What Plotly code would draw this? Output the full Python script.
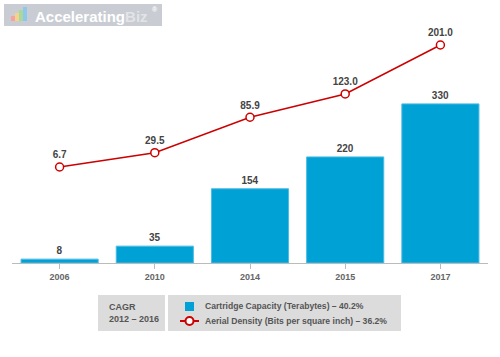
import plotly.graph_objects as go

years = ["2006", "2010", "2014", "2015", "2017"]
capacity = [8, 35, 154, 220, 330]
density = [6.7, 29.5, 85.9, 123.0, 201.0]
density_labels = ["6.7", "29.5", "85.9", "123.0", "201.0"]

W, H = 500, 357
L, R, T, B = 12, 12, 20, 94
PW, PH = W - L - R, H - T - B

def px(x):
    return (x - L) / PW

def py(y):
    return (H - B - y) / PH

FONT = "Liberation Sans, Arial"

fig = go.Figure()
fig.add_trace(go.Bar(
    x=years, y=capacity, text=["<b>%d</b>" % v for v in capacity], textposition="outside",
    textfont=dict(family=FONT, size=10, color="#444"),
    marker=dict(color="#00a2d6", line=dict(color="#4dbbe3", width=1)),
    cliponaxis=False, showlegend=False, yaxis="y"))
fig.add_trace(go.Scatter(
    x=years, y=density, mode="lines+markers+text", text=["<b>%s</b>" % t for t in density_labels],
    textposition="top center",
    textfont=dict(family=FONT, size=10, color="#444"),
    line=dict(color="#cc0000", width=1.5),
    marker=dict(symbol="circle", size=8, color="white", line=dict(color="#cc0000", width=1.5)),
    cliponaxis=False, showlegend=False, yaxis="y2"))

shapes = []
annotations = []
# logo
shapes.append(dict(type="rect", xref="paper", yref="paper", x0=px(4), x1=px(162), y0=py(26), y1=py(4),
                   fillcolor="#c9cdd3", line=dict(width=0), layer="below"))
for i, (c, h) in enumerate([("#f4a3a3", 5), ("#f6d38a", 8), ("#a8d99b", 11), ("#8cc8ec", 14)]):
    x0 = 11 + i * 4
    shapes.append(dict(type="rect", xref="paper", yref="paper", x0=px(x0), x1=px(x0 + 4),
                       y0=py(21), y1=py(21 - h), fillcolor=c, line=dict(width=0), layer="below"))
annotations.append(dict(xref="paper", yref="paper", x=px(33), y=py(16), xanchor="left", yanchor="middle",
                        showarrow=False,
                        text="<b>Accelerating</b><b><span style='color:#e2e4e8'>Biz</span></b>",
                        font=dict(family=FONT, size=15, color="white")))
annotations.append(dict(xref="paper", yref="paper", x=px(150), y=py(10), xanchor="left", yanchor="middle",
                        showarrow=False, text="<b>®</b>",
                        font=dict(family=FONT, size=7, color="white")))
# legend boxes
shapes.append(dict(type="rect", xref="paper", yref="paper", x0=px(98), x1=px(165), y0=py(331), y1=py(295),
                   fillcolor="#dcdcdc", line=dict(width=0)))
shapes.append(dict(type="rect", xref="paper", yref="paper", x0=px(168), x1=px(401), y0=py(331), y1=py(295),
                   fillcolor="#dcdcdc", line=dict(width=0)))
annotations.append(dict(xref="paper", yref="paper", x=px(107), y=py(313), xanchor="left", yanchor="middle",
                        showarrow=False, align="left", text="<b>CAGR<br>2012 – 2016</b>",
                        font=dict(family=FONT, size=9, color="#555")))
shapes.append(dict(type="rect", xref="paper", yref="paper", x0=px(185), x1=px(194), y0=py(311), y1=py(302),
                   fillcolor="#00a2d6", line=dict(width=0)))
shapes.append(dict(type="line", xref="paper", yref="paper", x0=px(180), x1=px(199), y0=py(321), y1=py(321),
                   line=dict(color="#cc0000", width=2)))
shapes.append(dict(type="circle", xref="paper", yref="paper", x0=px(185.5), x1=px(193.5), y0=py(325), y1=py(317),
                   fillcolor="white", line=dict(color="#cc0000", width=2)))
annotations.append(dict(xref="paper", yref="paper", x=px(203), y=py(306), xanchor="left", yanchor="middle",
                        showarrow=False, text="<b>Cartridge Capacity (Terabytes) – 40.2%</b>",
                        font=dict(family=FONT, size=8.6, color="#555")))
annotations.append(dict(xref="paper", yref="paper", x=px(203), y=py(321), xanchor="left", yanchor="middle",
                        showarrow=False, text="<b>Aerial Density (Bits per square inch) – 36.2%</b>",
                        font=dict(family=FONT, size=8.6, color="#555")))

fig.update_layout(
    width=W, height=H, margin=dict(l=L, r=R, t=T, b=B),
    paper_bgcolor="white", plot_bgcolor="white", bargap=0.19,
    xaxis=dict(showgrid=False, showline=True, linecolor="#bbbbbb", linewidth=1,
               ticks="outside", ticklen=5, tickcolor="#bbbbbb",
               tickfont=dict(family=FONT, size=9, color="#666"),
               tickvals=years, ticktext=["<b>%s</b>" % y for y in years]),
    yaxis=dict(range=[0, 504], visible=False, showgrid=False, zeroline=False),
    yaxis2=dict(range=[-146.2, 240.8], visible=False, overlaying="y", showgrid=False, zeroline=False),
    shapes=shapes, annotations=annotations,
)
fig.write_html("out.html", config={"displayModeBar": False},
               post_script="document.body.style.margin='0';")
